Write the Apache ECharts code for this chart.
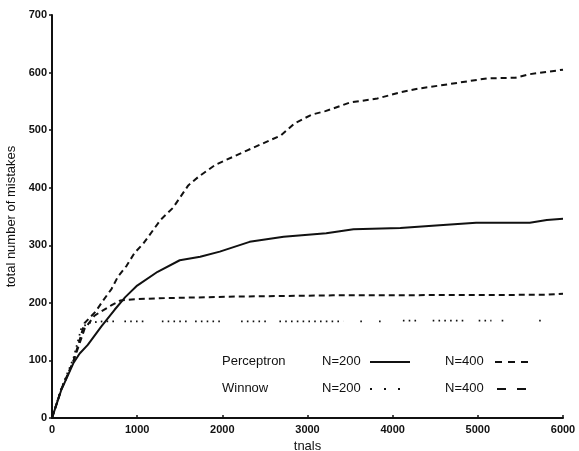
<!DOCTYPE html>
<html>
<head>
<meta charset="utf-8">
<script src="https://cdn.jsdelivr.net/npm/echarts@6/dist/echarts.min.js"></script>
<style>
  html, body { margin: 0; padding: 0; background: #fff; }
  #chart { width: 579px; height: 451px; }
</style>
</head>
<body>
<div id="chart"></div>
<script>
// tick values
const xTicks = [0, 1000, 2000, 3000, 4000, 5000, 6000]
const yTicks = [0, 100, 200, 300, 400, 500, 600, 700]

// Perceptron, N=200 (solid)
const percep200Trials = [0, 110, 250, 325, 420, 580, 735, 860, 1000, 1240, 1500, 1740, 1970, 2320, 2720, 3220, 3540, 4090, 4550, 4980, 5610, 5810, 6000]
const percep200Values = [0, 49, 95, 112, 127, 159, 188, 210, 230, 254, 274, 280, 289, 306, 315, 321, 328, 330, 335, 339, 339, 344, 346]

// Perceptron, N=400 (dashed)
const percep400Trials = [0, 110, 250, 383, 513, 600, 698, 776, 874, 970, 1072, 1274, 1420, 1600, 1720, 1920, 2280, 2690, 2850, 3050, 3210, 3500, 3820, 4100, 4300, 4710, 5110, 5440, 5600, 6000]
const percep400Values = [0, 50, 98, 165, 185, 204, 224, 246, 264, 287, 303, 344, 365, 404, 419, 440, 464, 491, 512, 527, 533, 548, 555, 566, 572, 581, 590, 591, 597, 605]

// Winnow, N=200 (dotted, with gaps where no dots were printed)
const winnow200Trials = [0, 110, 250, 344, 420, 600, 740, 750, 850, 1090, 1100, 1290, 1600, 1610, 1680, 1980, 1990, 2220, 2520, 2530, 2670, 3420, 3430, 3620, 3660, 3670, 3840, 3880, 3890, 4120, 4310, 4320, 4470, 4870, 4880, 5010, 5160, 5170, 5280, 5320, 5330, 5720, 5760]
const winnow200Values = [0, 52, 103, 156, 165, 168, 168, null, 168, 168, null, 168, 168, null, 168, 168, null, 168, 168, null, 168, 168, null, 168, 168, null, 168, 168, null, 169, 169, null, 169, 169, null, 169, 169, null, 169, 169, null, 169, 169]

// Winnow, N=400 (dashed)
const winnow400Trials = [0, 110, 250, 383, 500, 700, 800, 935, 1255, 2200, 3300, 5800, 6000]
const winnow400Values = [0, 50, 98, 155, 178, 196, 204, 206, 208, 211, 213, 214, 216]

const pairs = (xs, ys) => xs.map((x, i) => [x, ys[i] == null ? '-' : ys[i]])

const font = 'Liberation Sans, Arial, sans-serif'
const black = '#111'

let chart = echarts.init(document.getElementById('chart'))

function legendText(text, x, y) {
  return {
    type: 'text', left: x, top: y - 7,
    style: { text: text, font: '13px ' + font, fill: black }
  }
}
function legendLine(x1, x2, y, dash) {
  return {
    type: 'line',
    shape: { x1: x1, y1: y, x2: x2, y2: y },
    style: { stroke: black, lineWidth: 1.8, lineDash: dash }
  }
}

let option = {
  animation: false,
  grid: { left: 52, right: 16, top: 15, bottom: 33, containLabel: false, outerBoundsMode: 'none' },
  xAxis: {
    type: 'value',
    min: 0, max: 6000, interval: 1000,
    name: 'tnals',
    nameLocation: 'middle',
    nameGap: 16,
    nameTextStyle: { fontFamily: font, fontSize: 13, color: black },
    axisLine: { show: true, lineStyle: { color: black, width: 2 } },
    axisTick: { show: true, inside: true, length: 3, lineStyle: { color: black, width: 1.5 } },
    axisLabel: { fontFamily: font, fontSize: 11, fontWeight: 'bold', color: black, margin: 6,
      formatter: v => xTicks.includes(v) ? String(v) : '' },
    splitLine: { show: false }
  },
  yAxis: {
    type: 'value',
    min: 0, max: 700, interval: 100,
    name: 'total number of mistakes',
    nameLocation: 'middle',
    nameGap: 28,
    nameTextStyle: { fontFamily: font, fontSize: 13, color: black },
    axisLine: { show: true, lineStyle: { color: black, width: 2 } },
    axisTick: { show: true, length: 3, lineStyle: { color: black, width: 1.5 } },
    axisLabel: { fontFamily: font, fontSize: 11, fontWeight: 'bold', color: black, margin: 5,
      formatter: v => yTicks.includes(v) ? String(v) : '' },
    splitLine: { show: false }
  },
  series: [
    {
      name: 'Perceptron N=200', type: 'line', showSymbol: false,
      data: pairs(percep200Trials, percep200Values),
      lineStyle: { color: black, width: 2 }
    },
    {
      name: 'Perceptron N=400', type: 'line', showSymbol: false,
      data: pairs(percep400Trials, percep400Values),
      lineStyle: { color: black, width: 2, type: [6, 4] }
    },
    {
      name: 'Winnow N=200', type: 'line', showSymbol: false, connectNulls: false,
      data: pairs(winnow200Trials, winnow200Values),
      lineStyle: { color: black, width: 1.8, type: [1.6, 4.2] }
    },
    {
      name: 'Winnow N=400', type: 'line', showSymbol: false,
      data: pairs(winnow400Trials, winnow400Values),
      lineStyle: { color: black, width: 2, type: [6, 4] }
    }
  ],
  graphic: [
    legendText('Perceptron', 222, 362),
    legendText('N=200', 322, 362),
    legendLine(370, 410, 362, null),
    legendText('N=400', 445, 362),
    legendLine(495, 530, 362, [7, 6]),
    legendText('Winnow', 222, 389),
    legendText('N=200', 322, 389),
    legendLine(370, 410, 389, [2, 12]),
    legendText('N=400', 445, 389),
    legendLine(497, 526, 389, [9, 11])
  ]
}

chart.setOption(option)
</script>
</body>
</html>
